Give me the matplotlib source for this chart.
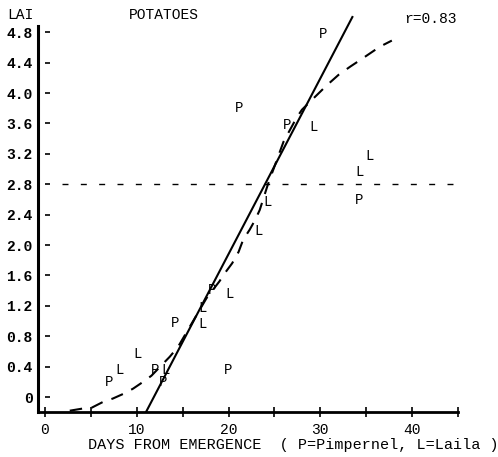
import matplotlib
matplotlib.use("Agg")
import matplotlib.pyplot as plt

# Pimpernel points (days, LAI)
p_x = [30.3, 21.2, 26.4, 34.2, 18.2, 14.2, 7.0, 12.0, 12.9, 20.0]
p_y = [4.78, 3.80, 3.58, 2.59, 1.41, 0.97, 0.20, 0.36, 0.20, 0.36]

# Laila points
l_x = [29.3, 35.4, 34.3, 24.3, 23.3, 20.1, 17.2, 17.2, 10.1, 8.1, 13.1]
l_y = [3.55, 3.17, 2.96, 2.57, 2.18, 1.36, 1.17, 0.96, 0.57, 0.36, 0.36]

# dashed growth curve
curve_x = [2.7, 4.2, 5.1, 6.4, 7.4, 8.7, 9.6, 10.7, 11.6, 13.6, 14.5, 17.6,
           19.0, 19.6, 20.4, 21.1, 21.6, 22.3, 22.9, 23.4, 24.3, 26.0, 27.4,
           28.0, 29.6, 30.7, 32.0, 33.3, 34.3, 35.4, 36.5, 37.8]
curve_y = [-0.18, -0.15, -0.14, -0.06, -0.02, 0.05, 0.11, 0.20, 0.28, 0.53,
           0.66, 1.30, 1.52, 1.63, 1.76, 1.91, 2.07, 2.20, 2.33, 2.46, 2.80,
           3.36, 3.67, 3.78, 3.97, 4.10, 4.24, 4.35, 4.43, 4.52, 4.61, 4.69]

# regression line
fit_x = [11.0, 33.5]
fit_y = [-0.2, 5.0]

threshold = 2.8
thr_x = [1.9, 44.5]

y_ticks = [0, 0.4, 0.8, 1.2, 1.6, 2.0, 2.4, 2.8, 3.2, 3.6, 4.0, 4.4, 4.8]
y_labels = ["0", "0.4", "0.8", "1.2", "1.6", "2.0", "2.4", "2.8", "3.2",
            "3.6", "4.0", "4.4", "4.8"]
x_ticks = [0, 10, 20, 30, 40]
x_minor = [5, 15, 25, 35, 45]

mono = "Liberation Mono"

fig = plt.figure(figsize=(4.98, 4.57), dpi=100)
ax = fig.add_axes([0.0763, 0.098, 0.8432, 0.8814])
ax.set_xlim(-0.76, 45.0)
ax.set_ylim(-0.2, 5.1)

ax.spines["top"].set_visible(False)
ax.spines["right"].set_visible(False)
ax.spines["left"].set_bounds(-0.2, 4.88)
ax.spines["left"].set_linewidth(2.2)
ax.spines["bottom"].set_linewidth(2.0)

ax.set_xticks(x_ticks, [str(t) for t in x_ticks])
ax.set_xticks(x_minor, minor=True)
ax.tick_params(axis="x", which="both", direction="inout", length=7,
               width=1.2, pad=4)
ax.set_yticks(y_ticks, y_labels)
ax.tick_params(axis="y", length=0, pad=4)
for lab in ax.get_xticklabels():
    lab.set_fontfamily(mono)
    lab.set_fontsize(10.5)
for lab in ax.get_yticklabels():
    lab.set_fontfamily(mono)
    lab.set_fontsize(10.5)
    lab.set_fontweight("bold")

# little dash marks right of the y axis
ax.hlines(y_ticks, 0.017, 0.029, transform=ax.get_yaxis_transform(),
          color="k", lw=1.2)

ax.plot(thr_x, [threshold, threshold], color="k", lw=1.0,
        dashes=(4.3, 8.9))
ax.plot(fit_x, fit_y, color="k", lw=1.5)
ax.plot(curve_x, curve_y, color="k", lw=1.5, dashes=(6, 4.5))

for x, y in zip(p_x, p_y):
    ax.text(x, y, "P", ha="center", va="center", fontsize=10,
            family=mono)
for x, y in zip(l_x, l_y):
    ax.text(x, y, "L", ha="center", va="center", fontsize=10,
            family=mono)

fig.text(20 / 498, 1 - 15 / 457, "LAI", ha="center", va="center",
         fontsize=10.5, family=mono)
fig.text(164 / 498, 1 - 15 / 457, "POTATOES", ha="center", va="center",
         fontsize=10.5, family=mono)
fig.text(430 / 498, 1 - 19 / 457, "r=0.83", ha="center", va="center",
         fontsize=10.5, family=mono)
fig.text(88 / 498, 1 - 445 / 457,
         "DAYS FROM EMERGENCE  ( P=Pimpernel, L=Laila )",
         ha="left", va="center", fontsize=10.9, family=mono)

fig.savefig("out.png", dpi=100)
